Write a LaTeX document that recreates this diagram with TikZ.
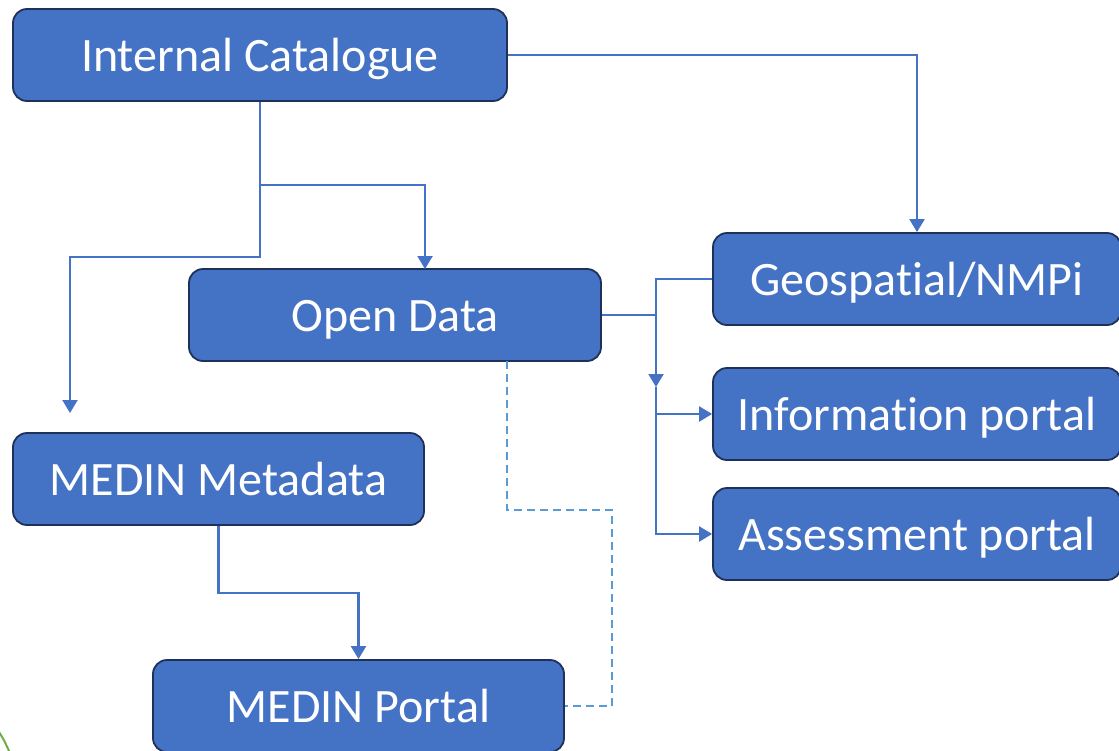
\documentclass[tikz,border=0pt]{standalone}
\usepackage{fontspec}
\setmainfont[Ligatures=NoCommon]{Carlito}
\usetikzlibrary{arrows.meta}
\definecolor{boxfill}{HTML}{4472C4}
\definecolor{boxedge}{HTML}{1F3159}
\definecolor{connc}{HTML}{4472C4}
\definecolor{dashc}{HTML}{5B9BD5}
\definecolor{arcgreen}{HTML}{70AD47}
\tikzset{
 box/.style={draw=boxedge, line width=1.8pt, fill=boxfill, rounded corners=14pt, text=white,
   font=\fontsize{48}{58}\selectfont, inner sep=0pt, text height=33pt, text depth=0pt},
 conn/.style={draw=connc, line width=2.2pt},
 arr/.style={conn, -{Triangle[length=13pt,width=15pt]}},
 dashline/.style={draw=dashc, line width=2pt, dash pattern=on 8pt off 5pt},
}
\begin{document}
\begin{tikzpicture}[x=1pt,y=-1pt]
\useasboundingbox (0,0) rectangle (1119,750);
\clip (0,0) rectangle (1119,750);
\draw[arcgreen, line width=2pt] (-3,729) .. controls (3,738) .. (10,753);
\node[box, minimum width=494pt, minimum height=92pt] (ic) at (260,55) {Internal Catalogue};
\node[box, minimum width=412pt, minimum height=92pt] (od) at (395,315) {Open Data};
\node[box, minimum width=408pt, minimum height=92pt] (geo) at (917,279) {Geospatial/NMPi};
\node[box, minimum width=408pt, minimum height=92pt] (ip) at (917,414) {Information portal};
\node[box, minimum width=408pt, minimum height=92pt] (ap) at (917,534) {Assessment portal};
\node[box, minimum width=411pt, minimum height=92pt] (mm) at (218.5,479) {MEDIN Metadata};
\node[box, minimum width=411pt, minimum height=92pt] (mp) at (358.5,706) {MEDIN Portal};
\coordinate (j1) at (260,185);
\coordinate (odin) at (425,269);
\coordinate (mmin) at (70,413);
\coordinate (j2) at (656,387);
\coordinate (j3) at (656,414);
\coordinate (j4) at (656,315);
\coordinate (d0) at (507,361);
\draw[arr] (ic.east) -| (geo.north);
\draw[arr] (ic.south) -- (j1) -| (odin);
\draw[arr] (j1) |- (70,257) -- (mmin);
\draw[conn] (od.east) -- (j4);
\draw[arr] (geo.west) -| (j2);
\draw[arr] (j2) |- (ap.west);
\draw[arr] (j3) -- (ip.west);
\draw[arr] (mm.south) -- ++(0,67) -| (mp.north);
\draw[dashline] (d0) |- (612,510) |- (mp.east);
\end{tikzpicture}
\end{document}
